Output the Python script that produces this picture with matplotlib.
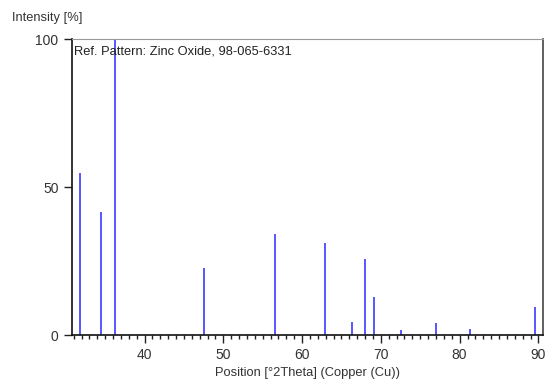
import matplotlib
matplotlib.use("Agg")
import matplotlib.pyplot as plt
from matplotlib.ticker import MultipleLocator

# Reference pattern peaks (position in deg 2theta, relative intensity %)
positions = [31.77, 34.42, 36.25, 47.54, 56.60, 62.86, 66.38, 67.96, 69.10, 72.56, 76.95, 81.38, 89.60]
intensities = [54.9, 41.5, 100.0, 22.7, 34.3, 31.2, 4.5, 25.9, 12.9, 1.7, 4.1, 2.1, 9.4]

x_ticks = [40, 50, 60, 70, 80, 90]
y_ticks = [0, 50, 100]

plt.rcParams['font.family'] = ['Liberation Sans', 'DejaVu Sans']

fig = plt.figure(figsize=(5.46, 3.81), dpi=100)
ax = fig.add_axes([0.1313, 0.12, 0.994 - 0.1313, 0.8976 - 0.12])

ax.vlines(positions, 0, intensities, color='#3a3aff', linewidth=1.2)

ax.set_xlim(30.75, 90.55)
ax.set_ylim(0, 100)
ax.set_xticks(x_ticks)
ax.set_yticks(y_ticks)
ax.xaxis.set_minor_locator(MultipleLocator(1))
ax.tick_params(axis='both', which='major', direction='out', length=6, width=1,
               labelsize=10, labelcolor='#333333', color='#222222')
ax.tick_params(axis='x', which='minor', direction='out', length=3, width=1, color='#222222')

for side in ['left', 'bottom']:
    ax.spines[side].set_color('#111111')
    ax.spines[side].set_linewidth(1.2)
ax.spines['top'].set_color('#999999')
ax.spines['right'].set_color('#444444')
ax.spines['right'].set_linewidth(1.2)

ax.text(0.004, 0.978, 'Ref. Pattern: Zinc Oxide, 98-065-6331', transform=ax.transAxes,
        ha='left', va='top', fontsize=9.3, color='#222222')

fig.text(12 / 546, 1 - 18 / 381, 'Intensity [%]', ha='left', va='center',
         fontsize=9.3, color='#333333')
ax.set_xlabel('Position [°2Theta] (Copper (Cu))', fontsize=9.3, color='#333333', labelpad=3)

fig.savefig('out.png', dpi=100)
